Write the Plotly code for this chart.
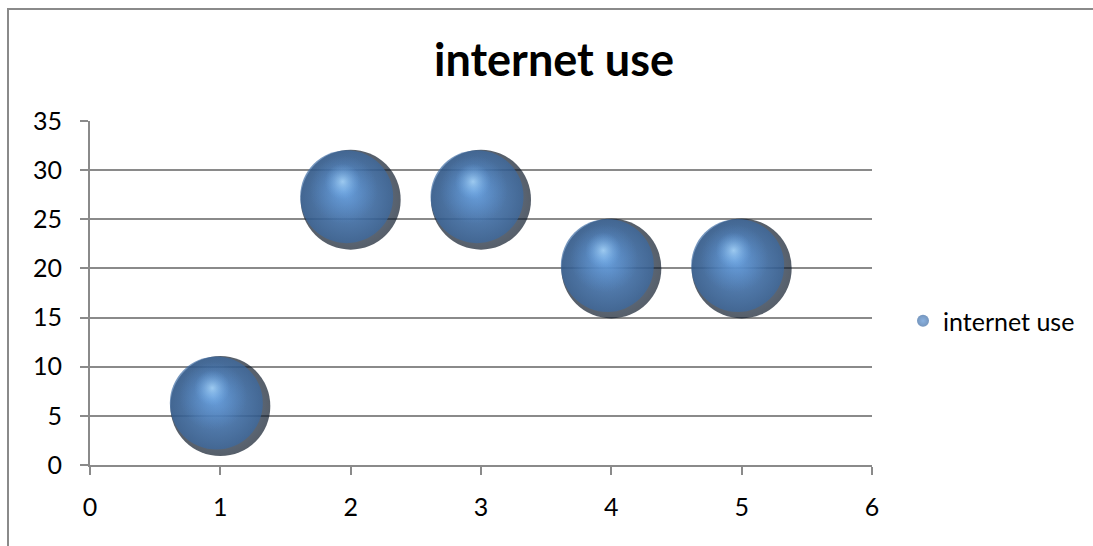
import plotly.graph_objects as go

# Series values
x_vals = [1, 2, 3, 4, 5]
y_vals = [6, 27, 27, 20, 20]
bubble_sizes = [10, 10, 10, 10, 10]
series_name = "internet use"
chart_title = "internet use"

# Axis ticks
x_ticks = [0, 1, 2, 3, 4, 5, 6]
y_ticks = [0, 5, 10, 15, 20, 25, 30, 35]

# Canvas and plot-area geometry (pixels)
W, H = 1093, 546
ML, MR, MT, MB = 90, 221, 121, 81
PW, PH = W - ML - MR, H - MT - MB
X_RANGE = [x_ticks[0], x_ticks[-1]]
Y_RANGE = [y_ticks[0], y_ticks[-1]]
UX = (X_RANGE[1] - X_RANGE[0]) / PW  # data units per pixel
UY = (Y_RANGE[1] - Y_RANGE[0]) / PH

MAX_DIAM = 100
SIZEREF = max(bubble_sizes) / MAX_DIAM

FONT = "Lato"
GRID = "#8a8a8a"


def sphere_layer(dx, dy, scale, center, edge, show=False):
    """One shading layer of the glossy bubbles, shifted by (dx, dy) pixels.

    For radial gradients plotly paints gradient.color at the centre and
    marker.color at the rim.
    """
    return go.Scatter(
        x=[v + dx * UX for v in x_vals],
        y=[v - dy * UY for v in y_vals],
        mode="markers",
        name=series_name,
        showlegend=show,
        hoverinfo=None if show else "skip",
        cliponaxis=False,
        marker=dict(
            symbol="circle",
            size=[s * scale for s in bubble_sizes],
            sizemode="diameter",
            sizeref=SIZEREF,
            color=edge,
            gradient=dict(type="radial", color=center),
            line=dict(width=0),
        ),
    )


fig = go.Figure()
# dark rim
fig.add_trace(sphere_layer(0, 0, 1.0, "#2a4a72", "#0e1a2a"))
# main body, nudged up-left so the shadow sits on the lower right
fig.add_trace(sphere_layer(-4, -3, 0.93, "#5890d2", "#3a69a2", show=True))
# soft glow on the upper-left
fig.add_trace(sphere_layer(-7, -10, 0.68, "#70abea", "rgba(88,144,210,0)"))
# specular highlight
fig.add_trace(sphere_layer(-8, -18, 0.36, "#b8e2ff", "rgba(112,171,234,0)"))

fig.update_layout(
    width=W,
    height=H,
    margin=dict(l=ML, r=MR, t=MT, b=MB, autoexpand=False),
    paper_bgcolor="white",
    plot_bgcolor="white",
    font=dict(family=FONT, size=25, color="#000000"),
    title=dict(
        text=f"<b>{chart_title}</b>",
        font=dict(family=FONT, size=45, color="#000000"),
        xref="container",
        x=554 / W,
        xanchor="center",
        yref="container",
        y=1 - 60 / H,
        yanchor="middle",
    ),
    xaxis=dict(
        range=X_RANGE,
        tickvals=x_ticks,
        showgrid=False,
        zeroline=False,
        showline=True,
        linecolor=GRID,
        linewidth=2,
        ticks="outside",
        ticklen=8,
        tickwidth=2,
        tickcolor=GRID,
        ticklabelstandoff=11,
        tickfont=dict(family=FONT, size=25),
    ),
    yaxis=dict(
        range=Y_RANGE,
        tickvals=y_ticks,
        showgrid=True,
        gridcolor=GRID,
        gridwidth=2,
        zeroline=False,
        showline=True,
        linecolor=GRID,
        linewidth=2,
        ticks="outside",
        ticklen=8,
        tickwidth=2,
        tickcolor=GRID,
        ticklabelstandoff=13,
        tickfont=dict(family=FONT, size=25),
    ),
    legend=dict(
        x=(903 - ML) / PW,
        xanchor="left",
        y=(H - MB - 321) / PH,
        yanchor="middle",
        font=dict(family=FONT, size=25),
        itemsizing="constant",
        bgcolor="rgba(0,0,0,0)",
    ),
    shapes=[
        dict(
            type="rect",
            xref="paper",
            yref="paper",
            x0=(8 - ML) / PW,
            x1=1.5,
            y0=-0.5,
            y1=(H - MB - 9) / PH,
            line=dict(color="#8a8a8a", width=2),
            layer="below",
        )
    ],
)

fig.write_html("out.html")
